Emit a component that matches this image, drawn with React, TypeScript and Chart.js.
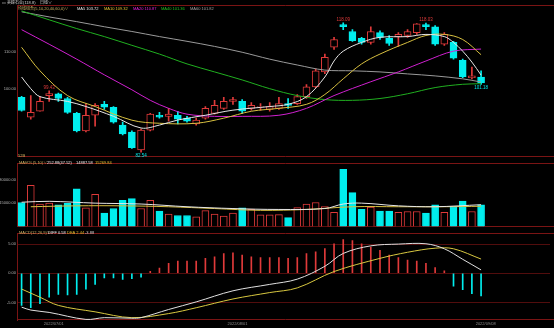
import React, { useEffect, useRef } from "react";
import { Chart, registerables } from "chart.js";

Chart.register(...registerables);

const UP = "#e03a3a";
const DOWN = "#00eeee";
const FRAME = "#7a1414";
const GRID = "#520d0d";
const AXIS_TEXT = "#b0b0b0";
const FONT = "'Liberation Sans', 'Noto Sans CJK SC', sans-serif";
const W = 554;

// ---------- data ----------
const dates = [
  "2022/06/28", "2022/06/29", "2022/06/30", "2022/07/01", "2022/07/04", "2022/07/05", "2022/07/06",
  "2022/07/07", "2022/07/08", "2022/07/11", "2022/07/12", "2022/07/13", "2022/07/14", "2022/07/15",
  "2022/07/18", "2022/07/19", "2022/07/20", "2022/07/21", "2022/07/22", "2022/07/25", "2022/07/26",
  "2022/07/27", "2022/07/28", "2022/08/01", "2022/08/02", "2022/08/03", "2022/08/04", "2022/08/05",
  "2022/08/08", "2022/08/09", "2022/08/10", "2022/08/11", "2022/08/15", "2022/08/16", "2022/08/17",
  "2022/08/18", "2022/08/19", "2022/08/22", "2022/08/23", "2022/08/24", "2022/08/25", "2022/08/26",
  "2022/08/29", "2022/08/30", "2022/08/31", "2022/09/01", "2022/09/02", "2022/09/05", "2022/09/06",
  "2022/09/07", "2022/09/08",
];
const SLOT_COUNT = 58;
const shownDates = ["2022/07/01", "2022/08/01", "2022/09/08"];

const opens = [
  97.6, 92.2, 93.8, 98.1, 98.6, 97.3, 93.2, 88.4, 92.7, 95.7, 94.9, 90.0, 88.1, 83.2, 88.6, 92.7, 92.4,
  92.7, 91.9, 90.3, 91.9, 93.2, 94.6, 96.5, 96.5, 94.6, 94.9, 94.3, 94.6, 95.9, 95.9, 97.8, 100.5, 104.6,
  111.4, 117.6, 115.7, 113.8, 112.7, 115.4, 113.8, 114.3, 114.6, 115.4, 117.6, 117.0, 112.2, 112.7, 107.8,
  103.0, 103.2,
];
const highs = [
  97.9, 98.1, 97.8, 99.43, 98.8, 97.6, 93.5, 95.9, 95.9, 96.5, 95.1, 90.8, 88.4, 88.9, 93.2, 93.5, 94.6,
  93.8, 92.4, 91.9, 95.1, 96.8, 97.6, 97.6, 97.0, 96.2, 95.9, 96.2, 97.6, 97.3, 98.4, 101.1, 105.4, 109.5,
  114.1, 118.09, 116.2, 114.1, 117.0, 115.9, 114.6, 115.4, 116.2, 117.9, 118.03, 117.3, 115.4, 113.0, 108.1,
  105.9, 104.9,
];
const lows = [
  93.8, 91.6, 93.8, 96.5, 96.5, 93.2, 88.1, 88.1, 89.7, 94.3, 90.5, 87.3, 83.6, 82.54, 88.4, 91.9, 91.1,
  90.3, 90.8, 90.0, 91.6, 93.0, 94.3, 95.7, 93.2, 94.1, 94.1, 93.8, 94.3, 94.6, 95.7, 97.3, 100.3, 104.1,
  110.8, 116.2, 113.0, 112.2, 112.2, 113.5, 111.9, 111.6, 114.1, 114.9, 116.2, 111.9, 111.9, 108.1, 103.0,
  102.7, 101.18,
];
const closes = [
  94.0, 93.5, 96.5, 98.65, 97.3, 93.5, 88.4, 92.7, 95.4, 94.9, 90.8, 87.6, 83.8, 88.6, 93.0, 92.2, 93.0,
  91.6, 91.1, 91.4, 94.6, 95.4, 96.5, 97.0, 93.8, 95.4, 95.1, 95.1, 95.9, 95.4, 97.8, 100.5, 104.9, 108.6,
  113.5, 117.0, 113.2, 112.7, 115.7, 114.1, 112.4, 114.9, 115.7, 117.8, 117.0, 112.2, 114.9, 108.4, 103.2,
  103.5, 101.6,
];
const highMarks = [3, 35, 44];
const lowMarks = [13, 50];

// moving averages: [candle index, value]
const ma5Pts: [number, number][] = [
  [0, 103.2], [1, 100.0], [2, 97.8], [5, 96.5], [7, 95.1], [10, 92.4], [13, 89.2], [15, 90.0], [17, 91.4],
  [20, 92.7], [23, 94.1], [27, 95.1], [29, 95.7], [31, 97.8], [33, 103.2], [34, 107.6], [35, 110.3],
  [37, 112.7], [39, 114.1], [42, 114.3], [44, 114.9], [46, 114.3], [47, 112.7], [48, 110.3], [49, 107.3],
  [50, 103.72],
];
const ma10Pts: [number, number][] = [
  [0, 111.35], [2, 104.9], [5, 98.1], [8, 95.1], [12, 91.35], [15, 90.5], [19, 90.5], [22, 91.9],
  [25, 93.8], [28, 94.6], [31, 95.7], [33, 98.4], [35, 102.7], [37, 106.8], [39, 109.5], [42, 112.7],
  [44, 114.6], [46, 114.9], [48, 113.5], [50, 109.32],
];
const ma20Pts: [number, number][] = [
  [0, 116.2], [3, 112.2], [6, 108.1], [9, 103.8], [12, 99.7], [14, 96.8], [16, 94.6], [18, 93.0],
  [21, 92.4], [24, 92.4], [28, 92.7], [31, 94.6], [34, 98.1], [38, 101.9], [41, 104.6], [44, 107.6],
  [47, 110.3], [50, 110.87],
];
const ma40Pts: [number, number][] = [
  [0, 121.35], [3, 118.9], [6, 116.5], [9, 114.3], [12, 111.9], [15, 109.5], [18, 106.8], [21, 104.6],
  [24, 102.4], [27, 100.0], [30, 98.1], [33, 97.0], [36, 96.8], [39, 97.3], [42, 98.6], [45, 100.3],
  [48, 101.2], [50, 101.36],
];
const ma60Pts: [number, number][] = [
  [0, 121.1], [3, 119.7], [6, 118.4], [9, 117.0], [12, 115.7], [15, 114.3], [18, 113.0], [21, 111.6],
  [24, 110.0], [27, 108.1], [30, 106.5], [33, 105.1], [36, 104.9], [39, 104.6], [42, 104.05], [45, 103.5],
  [48, 102.7], [50, 101.82],
];

const volumes = [
  15403, 26365, 14423, 15000, 13846, 14827, 24058, 12000, 20596, 8654, 11538, 16731, 17885, 11538, 16731,
  9981, 8077, 7096, 7096, 6173, 10211, 8077, 6750, 8654, 11942, 10961, 7500, 7500, 7673, 5769, 12115,
  14423, 15403, 12865, 9058, 36519, 21750, 10961, 12519, 9981, 9981, 9058, 9635, 9635, 8654, 13846, 9058,
  12865, 16327, 9635, 13846,
];
const volMa5Pts: [number, number][] = [
  [0, 15577], [3, 16154], [8, 15000], [13, 14423], [18, 12692], [23, 11538], [28, 10961], [33, 11538],
  [35, 14423], [37, 15000], [41, 13269], [45, 12692], [50, 14000],
];
const volMa10Pts: [number, number][] = [
  [1, 12692], [6, 13269], [11, 13269], [16, 12692], [21, 11538], [26, 10385], [31, 10961], [36, 12692],
  [41, 12692], [46, 12692], [50, 13000],
];

const macdHist = [
  -5.5, -5.9, -5.2, -4.1, -3.6, -3.7, -3.6, -2.7, -1.9, -0.8, -0.8, -1.06, -0.94, -0.67, 0.33, 0.89, 1.72,
  2.11, 2.11, 2.11, 2.56, 2.83, 3.39, 3.5, 3.11, 2.83, 2.67, 2.67, 2.67, 2.56, 2.67, 3.39, 3.67, 4.22,
  5.06, 5.78, 5.61, 5.06, 4.5, 3.94, 3.11, 2.67, 2.28, 2.11, 1.72, 1.0, 0.44, -2.2, -2.8, -3.5, -3.88,
];
const diffPts: [number, number][] = [
  [0, -5.8], [1, -6.3], [3, -6.7], [7, -7.9], [9, -7.6], [12, -7.7], [13, -7.6], [16, -6.2], [19, -4.9],
  [23, -3.0], [27, -1.9], [30, -1.0], [33, 1.2], [35, 3.4], [38, 4.7], [41, 5.0], [44, 5.06], [46, 4.2],
  [48, 2.4], [50, 0.58],
];
const deaPts: [number, number][] = [
  [0, -2.7], [2, -4.1], [4, -5.5], [8, -6.6], [12, -7.6], [16, -6.9], [19, -5.9], [23, -4.4], [27, -3.3],
  [30, -2.5], [34, 0.3], [39, 2.56], [42, 3.6], [45, 4.3], [47, 4.2], [50, 2.44],
];

const mainTicks = [100, 110];
const volTicks = [15000, 30000];
const macdTicks = [-5, 0, 5];

// header texts: text, x, y (top, page coords), colour
type TextItem = { t: string; x: number; y: number; c: string };
const mainTexts: TextItem[] = [
  { t: "▭ 美峰石业(118.8)", x: 2, y: 1, c: "#d0d0d0" },
  { t: "日线∨", x: 40, y: 1, c: "#d0d0d0" },
  { t: "均线组合(5,10,20,40,60,0)∨", x: 18, y: 7, c: "#c8b464" },
  { t: "MA5 103.72", x: 77, y: 7, c: "#e6e6e6" },
  { t: "MA10 109.32", x: 104, y: 7, c: "#e0c030" },
  { t: "MA20 110.87", x: 133, y: 7, c: "#e020e0" },
  { t: "MA40 101.36", x: 161, y: 7, c: "#20c020" },
  { t: "MA60 101.82", x: 190, y: 7, c: "#a0a0a0" },
  { t: "52B", x: 18, y: 154, c: "#c8b464" },
];
const volTexts: TextItem[] = [
  { t: "MAVOL(5,10)∨", x: 19, y: 161, c: "#c8b464" },
  { t: "252.88(47.52)", x: 47, y: 161, c: "#e6e6e6" },
  { t: "14887.58", x: 76, y: 161, c: "#e6e6e6" },
  { t: "15269.84", x: 95, y: 161, c: "#e0c030" },
];
const macdTexts: TextItem[] = [
  { t: "MACD(12,26,9)∨", x: 19, y: 231, c: "#c8b464" },
  { t: "DIFF 0.58", x: 48, y: 231, c: "#e6e6e6" },
  { t: "DEA 2.44", x: 67, y: 231, c: "#e0c030" },
  { t: "-3.88", x: 85, y: 231, c: "#d0d0d0" },
];

// ---------- helpers ----------
const categories = [...dates, ...Array(SLOT_COUNT - dates.length).fill("")];
const toSeries = (pts: [number, number][]) => {
  const arr: (number | null)[] = categories.map(() => null);
  pts.forEach(([i, v]) => (arr[i] = v));
  return arr;
};
const lineDs = (label: string, pts: [number, number][], color: string) => ({
  type: "line" as const,
  label,
  data: toSeries(pts),
  borderColor: color,
  borderWidth: 1,
  pointRadius: 0,
  tension: 0.35,
  spanGaps: true,
  fill: false,
  order: 0,
});

const fixWidth = (s: any) => {
  s.width = 17;
};

const yAxis = (min: number, max: number, ticks: number[], grid: boolean) => ({
  position: "left" as const,
  min,
  max,
  afterFit: fixWidth,
  afterBuildTicks: (s: any) => {
    s.ticks = ticks.map((v) => ({ value: v }));
  },
  grid: { display: grid, color: GRID, drawTicks: false, lineWidth: 1 },
  border: { display: true, color: FRAME, width: 1 },
  ticks: {
    color: AXIS_TEXT,
    font: { size: 4, family: FONT },
    padding: 1,
    callback: (v: any) => Number(v).toFixed(2),
  },
});

const framePlugin = {
  id: "frame",
  beforeDatasetsDraw(chart: any) {
    const { ctx, chartArea } = chart;
    ctx.save();
    ctx.strokeStyle = FRAME;
    ctx.lineWidth = 1;
    ctx.beginPath();
    ctx.moveTo(chartArea.left, Math.round(chartArea.top) + 0.5);
    ctx.lineTo(W, Math.round(chartArea.top) + 0.5);
    ctx.moveTo(chartArea.left, Math.round(chartArea.bottom) - 0.5);
    ctx.lineTo(W, Math.round(chartArea.bottom) - 0.5);
    ctx.stroke();
    ctx.restore();
  },
};

const textPlugin = (items: TextItem[], offsetY: number) => ({
  id: "texts",
  afterDraw(chart: any) {
    const { ctx } = chart;
    ctx.save();
    ctx.font = `4px ${FONT}`;
    ctx.textAlign = "left";
    ctx.textBaseline = "top";
    items.forEach((it) => {
      ctx.fillStyle = it.c;
      ctx.fillText(it.t, it.x, it.y - offsetY);
    });
    ctx.restore();
  },
});

const extremePlugin = {
  id: "extremes",
  afterDatasetsDraw(chart: any) {
    const { ctx, scales } = chart;
    ctx.save();
    ctx.font = `4.5px ${FONT}`;
    ctx.textAlign = "center";
    highMarks.forEach((i) => {
      ctx.fillStyle = UP;
      ctx.textBaseline = "bottom";
      ctx.fillText(highs[i].toFixed(2), scales.x.getPixelForValue(i), scales.y.getPixelForValue(highs[i]) - 1);
    });
    lowMarks.forEach((i) => {
      ctx.fillStyle = DOWN;
      ctx.textBaseline = "top";
      ctx.fillText(lows[i].toFixed(2), scales.x.getPixelForValue(i), scales.y.getPixelForValue(lows[i]) + 1);
    });
    ctx.restore();
  },
};

const baseOptions = (padTop: number, padBottom: number) => ({
  responsive: false,
  animation: false as const,
  devicePixelRatio: 1,
  events: [] as any[],
  layout: { padding: { top: padTop, bottom: padBottom, left: 0, right: 4 } },
  plugins: { legend: { display: false }, tooltip: { enabled: false } },
});

const hiddenX = { display: false, offset: true };

const upFlags = closes.map((c, i) => c >= opens[i]);

export default function App() {
  const mainRef = useRef<HTMLCanvasElement>(null);
  const volRef = useRef<HTMLCanvasElement>(null);
  const macdRef = useRef<HTMLCanvasElement>(null);

  useEffect(() => {
    const charts: Chart[] = [];

    charts.push(
      new Chart(mainRef.current as HTMLCanvasElement, {
        type: "bar",
        data: {
          labels: categories,
          datasets: [
            lineDs("MA5", ma5Pts, "#e6e6e6"),
            lineDs("MA10", ma10Pts, "#d8c040"),
            lineDs("MA20", ma20Pts, "#d020d0"),
            lineDs("MA40", ma40Pts, "#20b020"),
            lineDs("MA60", ma60Pts, "#9a9a9a"),
            {
              label: "body",
              data: opens.map((o, i) => [o, closes[i]]),
              backgroundColor: upFlags.map((u) => (u ? "#000000" : DOWN)),
              borderColor: upFlags.map((u) => (u ? UP : DOWN)),
              borderWidth: 1,
              borderSkipped: false,
              barThickness: 7,
              grouped: false,
              order: 1,
            } as any,
            {
              label: "wick",
              data: lows.map((l, i) => [l, highs[i]]),
              backgroundColor: upFlags.map((u) => (u ? UP : DOWN)),
              borderWidth: 0,
              barThickness: 1,
              grouped: false,
              order: 2,
            } as any,
          ],
        },
        options: {
          ...baseOptions(5, 1),
          scales: {
            x: hiddenX,
            y: yAxis(81.35, 122.97, mainTicks, false),
          },
        } as any,
        plugins: [framePlugin, extremePlugin, textPlugin(mainTexts, 0)],
      })
    );

    charts.push(
      new Chart(volRef.current as HTMLCanvasElement, {
        type: "bar",
        data: {
          labels: categories,
          datasets: [
            lineDs("VMA5", volMa5Pts, "#e6e6e6"),
            lineDs("VMA10", volMa10Pts, "#d8c040"),
            {
              label: "vol",
              data: volumes,
              backgroundColor: upFlags.map((u) => (u ? "#000000" : DOWN)),
              borderColor: upFlags.map((u) => (u ? UP : DOWN)),
              borderWidth: 1,
              borderSkipped: "start",
              barThickness: 7,
              grouped: false,
              order: 1,
            } as any,
          ],
        },
        options: {
          ...baseOptions(0, 0),
          scales: {
            x: hiddenX,
            y: yAxis(0, 40385, volTicks, false),
          },
        } as any,
        plugins: [framePlugin, textPlugin(volTexts, 160)],
      })
    );

    charts.push(
      new Chart(macdRef.current as HTMLCanvasElement, {
        type: "bar",
        data: {
          labels: categories,
          datasets: [
            lineDs("DIFF", diffPts, "#e0e0e0"),
            lineDs("DEA", deaPts, "#d8c840"),
            {
              label: "MACD",
              data: macdHist,
              backgroundColor: macdHist.map((v) => (v >= 0 ? UP : DOWN)),
              borderWidth: 0,
              barThickness: 1,
              grouped: false,
              order: 1,
            } as any,
          ],
        },
        options: {
          ...baseOptions(1, 0),
          scales: {
            x: {
              offset: true,
              afterFit: (s: any) => {
                s.height = 8;
              },
              grid: { display: false, drawTicks: false },
              border: { display: false },
              ticks: {
                autoSkip: false,
                maxRotation: 0,
                padding: 1,
                labelOffset: 4.6,
                color: "#8c8c8c",
                font: { size: 4, family: FONT },
                callback: (_v: any, idx: number) =>
                  shownDates.includes(categories[idx]) ? categories[idx] : null,
              },
            },
            y: yAxis(-8, 6.833, macdTicks, true),
          },
        } as any,
        plugins: [framePlugin, textPlugin(macdTexts, 230)],
      })
    );

    return () => charts.forEach((c) => c.destroy());
  }, []);

  return (
    <div
      style={{
        position: "fixed",
        left: 0,
        top: 0,
        width: W,
        height: 328,
        background: "#000",
        overflow: "hidden",
      }}
    >
      <canvas ref={mainRef} width={W} height={160} style={{ position: "absolute", left: 0, top: 0 }} />
      <canvas ref={volRef} width={W} height={70} style={{ position: "absolute", left: 0, top: 160 }} />
      <canvas ref={macdRef} width={W} height={98} style={{ position: "absolute", left: 0, top: 230 }} />
    </div>
  );
}
